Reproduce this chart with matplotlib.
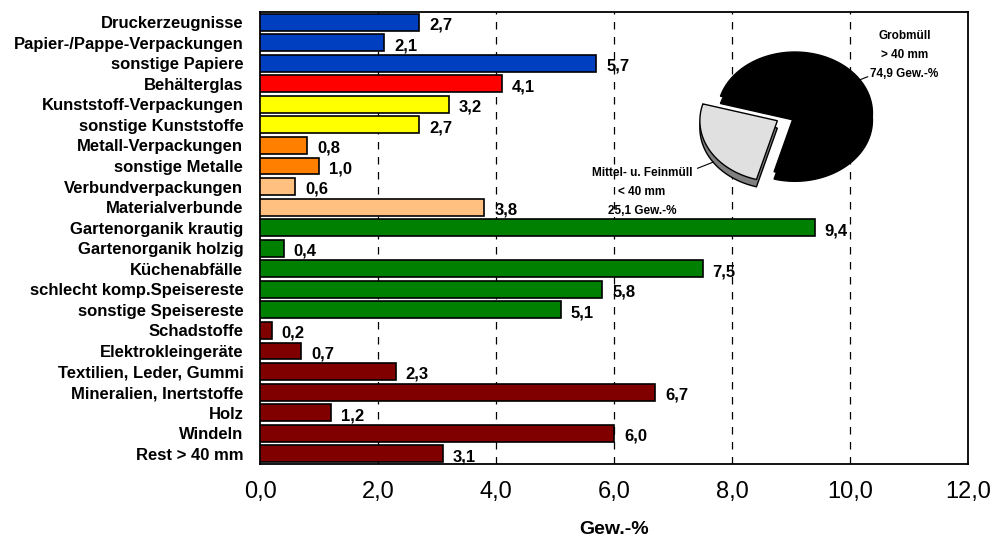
import matplotlib
matplotlib.use("Agg")
import matplotlib.pyplot as plt
import numpy as np

plt.rcParams['font.family'] = ['Liberation Sans', 'DejaVu Sans']

categories = [
    "Druckerzeugnisse", "Papier-/Pappe-Verpackungen", "sonstige Papiere",
    "Behälterglas", "Kunststoff-Verpackungen", "sonstige Kunststoffe",
    "Metall-Verpackungen", "sonstige Metalle", "Verbundverpackungen",
    "Materialverbunde", "Gartenorganik krautig", "Gartenorganik holzig",
    "Küchenabfälle", "schlecht komp.Speisereste", "sonstige Speisereste",
    "Schadstoffe", "Elektrokleingeräte", "Textilien, Leder, Gummi",
    "Mineralien, Inertstoffe", "Holz", "Windeln", "Rest > 40 mm",
]
values = [2.7, 2.1, 5.7, 4.1, 3.2, 2.7, 0.8, 1.0, 0.6, 3.8, 9.4, 0.4,
          7.5, 5.8, 5.1, 0.2, 0.7, 2.3, 6.7, 1.2, 6.0, 3.1]
groups = ["paper"] * 3 + ["glass"] + ["plastic"] * 2 + ["metal"] * 2 + \
         ["composite"] * 2 + ["organic"] * 5 + ["other"] * 7
group_colors = {
    "paper": "#0040C0", "glass": "#FF0000", "plastic": "#FFFF00",
    "metal": "#FF8000", "composite": "#FFC080", "organic": "#008000",
    "other": "#800000",
}
x_ticks = [0, 2, 4, 6, 8, 10, 12]

pie_labels = ["Mittel- u. Feinmüll\n< 40 mm\n25,1 Gew.-%", "Grobmüll\n> 40 mm\n74,9 Gew.-%"]
pie_values = [25.1, 74.9]

fig = plt.figure(figsize=(9.94, 5.38), dpi=100)
ax = fig.add_axes([0.2616, 0.1375, 0.7124, 0.8405])

y = np.arange(len(categories))
colors = [group_colors[g] for g in groups]
ax.barh(y, values, height=0.82, color=colors, edgecolor="black", linewidth=1.2, zorder=3)
for yi, v in zip(y, values):
    ax.text(v + 0.17, yi + 0.14, f"{v:.1f}".replace(".", ","), va="center", ha="left",
            fontsize=12, fontweight="bold", zorder=0.5)

ax.set_ylim(len(categories) - 0.5, -0.5)
ax.set_yticks(y)
ax.set_yticklabels(categories, fontsize=12, fontweight="bold")
ax.set_xlim(0, 12)
ax.set_xticks(x_ticks)
ax.set_xticklabels([f"{t:.1f}".replace(".", ",") for t in x_ticks], fontsize=17)
ax.tick_params(axis="y", length=0, pad=12)
ax.tick_params(axis="x", length=0, pad=12)
for t in x_ticks[1:-1]:
    ax.axvline(t, color="black", linestyle=(0, (6, 6)), linewidth=0.9, zorder=1)
for s in ax.spines.values():
    s.set_linewidth(1.3)
ax.set_xlabel("Gew.-%", fontsize=14, fontweight="bold", labelpad=13)

# exploded, slightly tilted pie with a shaded side on the small slice
pax = fig.add_axes([0.6984, 0.6199, 0.2027, 0.3061])
pax.set_xlim(-1.3, 1.3)
pax.set_ylim(-1.5, 1.2)
pax.axis("off")
start = 164.0
a_small = pie_values[0] / 100 * 360
mid = np.deg2rad(start + a_small / 2)
off = 0.26
cx, cy = off * np.cos(mid), off * np.sin(mid)
depth = 0.12

def ellipse_wedge(cx0, cy0, t1, t2, fc, ec):
    t = np.linspace(np.deg2rad(t1), np.deg2rad(t2), 120)
    xs = np.concatenate([[cx0], cx0 + np.cos(t), [cx0]])
    ys = np.concatenate([[cy0], cy0 + np.sin(t), [cy0]])
    pax.fill(xs, ys, facecolor=fc, edgecolor=ec, linewidth=1.0, joinstyle="miter")

ellipse_wedge(0, -depth, start + a_small, start + 360, "black", "black")
ellipse_wedge(0, 0, start + a_small, start + 360, "black", "black")
ellipse_wedge(cx, cy - depth, start, start + a_small, "#808080", "black")
ellipse_wedge(cx, cy, start, start + a_small, "#E0E0E0", "black")

# leader lines to the labels
t_big = np.deg2rad(33)
pax.plot([np.cos(t_big), np.cos(t_big) + 0.1], [np.sin(t_big), np.sin(t_big) + 0.05],
         color="black", linewidth=0.8)
t_small = np.deg2rad(214)
pax.plot([cx + np.cos(t_small), cx + np.cos(t_small) - 0.2],
         [cy - depth + np.sin(t_small), cy - depth + np.sin(t_small) - 0.1],
         color="black", linewidth=0.8, clip_on=False)

fig.text(0.910, 0.944, pie_labels[1], ha="center", va="top", fontsize=8.5, fontweight="bold",
         linespacing=1.75)
fig.text(0.646, 0.689, pie_labels[0], ha="center", va="top", fontsize=8.5, fontweight="bold",
         linespacing=1.75)

fig.savefig("out.png", dpi=100)
